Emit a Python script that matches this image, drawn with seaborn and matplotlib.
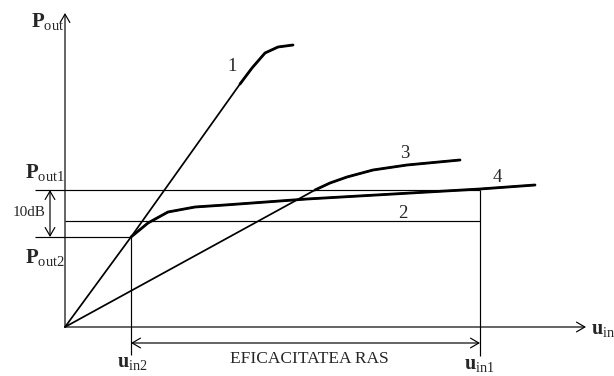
import numpy as np
import pandas as pd
import matplotlib
matplotlib.use("Agg")
import matplotlib.pyplot as plt
import seaborn as sns

# Transfer characteristics (u_in, P_out)
curve1_u = [0, 66, 175, 187, 200, 213, 228]
curve1_p = [0, 90, 243, 259, 274, 280, 282]
curve3_u = [0, 250, 265, 282, 308, 342, 395]
curve3_p = [0, 137, 144, 150, 157, 162, 167]
curve4_u = [66, 83, 103, 130, 160, 242, 415, 470]
curve4_p = [90, 104, 115, 120, 122, 128, 138, 142]

# Reference levels
u_in2 = 66
u_in1 = 415
p_out1 = 137
p_out2 = 90
p_mid = 106
u_axis_end = 521
p_axis_end = 314

sns.set_style("white")
plt.rcParams["font.family"] = ["Liberation Serif", "DejaVu Serif"]
plt.rcParams["mathtext.fontset"] = "custom"
plt.rcParams["mathtext.rm"] = "Liberation Serif"
plt.rcParams["mathtext.bf"] = "Liberation Serif:bold"

fig = plt.figure(figsize=(6.14, 3.76), dpi=100)
ax = fig.add_axes([0, 0, 1, 1])
ax.set_xlim(-65, 549)
ax.set_ylim(-49, 327)
ax.axis("off")

# curves: thin straight part, thicker knee
curves = [(curve1_u, curve1_p, 2), (curve3_u, curve3_p, 1), (curve4_u, curve4_p, 0)]
for cu, cp, k in curves:
    sns.lineplot(x=cu, y=cp, sort=False, estimator=None, color="black", lw=1.25, ax=ax)
    sns.lineplot(x=cu[k:], y=cp[k:], sort=False, estimator=None, color="black", lw=2.0, ax=ax)

# guide lines
lk = dict(color="black", lw=0.85)
ax.hlines(p_out1, -30, u_in1, **lk)
ax.hlines(p_out2, -30, u_in2, **lk)
ax.hlines(p_mid, 0, u_in1, **lk)
ax.vlines(u_in2, -28, p_out2, **lk)
ax.vlines(u_in1, -29, p_out1, **lk)

arrow = dict(arrowstyle="->,head_length=0.6,head_width=0.35", color="black", lw=0.85,
             shrinkA=0, shrinkB=0)
arrow2 = dict(arrowstyle="<->,head_length=0.6,head_width=0.35", color="black", lw=0.85,
              shrinkA=0, shrinkB=0)
ax.annotate("", xy=(u_axis_end, 0), xytext=(0, 0), arrowprops=arrow)
ax.annotate("", xy=(0, p_axis_end), xytext=(0, 0), arrowprops=arrow)
ax.annotate("", xy=(-15, p_out1), xytext=(-15, p_out2), arrowprops=arrow2)
ax.annotate("", xy=(u_in2, -16), xytext=(u_in1, -16), arrowprops=arrow2)

# labels
ax.text(-34, 300, r"$\mathbf{P}_{\mathrm{out}}$", fontsize=15, ha="left", va="baseline")
ax.text(-40, 149, r"$\mathbf{P}_{\mathrm{out1}}$", fontsize=15, ha="left", va="baseline")
ax.text(-40, 64, r"$\mathbf{P}_{\mathrm{out2}}$", fontsize=15, ha="left", va="baseline")
ax.text(-52, 114, "10dB", fontsize=11, ha="left", va="center")
ax.text(52, -41, r"$\mathbf{u}_{\mathrm{in2}}$", fontsize=14.5, ha="left", va="baseline")
ax.text(399, -43, r"$\mathbf{u}_{\mathrm{in1}}$", fontsize=14.5, ha="left", va="baseline")
ax.text(526, -8, r"$\mathbf{u}_{\mathrm{in}}$", fontsize=14.5, ha="left", va="baseline")
ax.text(244, -32, "EFICACITATEA RAS", fontsize=12.5, ha="center", va="center")

for lab, (lx, ly) in zip(["1", "2", "3", "4"],
                         [(167.5, 260.5), (338, 114), (340, 174), (432, 149)]):
    ax.text(lx, ly, lab, fontsize=13.5, ha="center", va="center")

fig.savefig("out.png", dpi=100)
